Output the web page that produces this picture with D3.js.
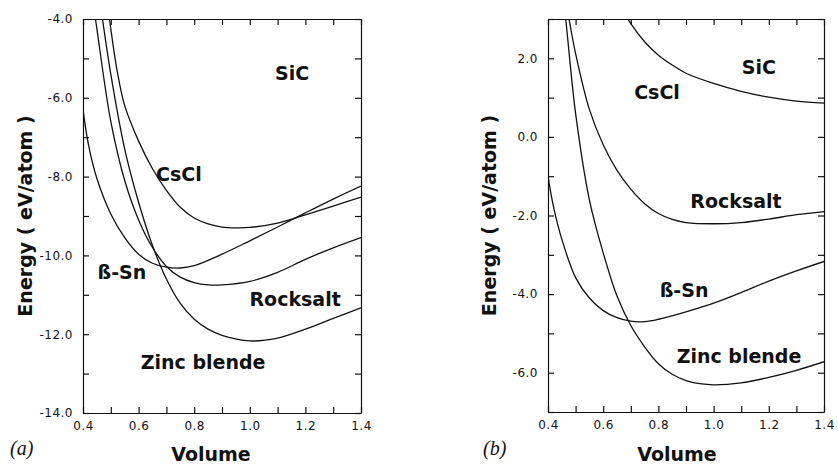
<!DOCTYPE html>
<html>
<head>
<meta charset="utf-8">
<script src="https://cdn.jsdelivr.net/npm/d3@7"></script>
<style>
  body { margin: 0; background: #fff; }
  svg { display: block; }
  .axis path, .axis line { stroke: #111; stroke-width: 1.2; }
  .axis text { font-family: "DejaVu Sans", sans-serif; font-size: 12px; fill: #111; letter-spacing: 0.5px; }
  .curve { fill: none; stroke: #111; stroke-width: 1.3; }
  .label { font-family: "DejaVu Sans", sans-serif; font-weight: bold; font-size: 19px; fill: #111; }
  .title { font-family: "DejaVu Sans", sans-serif; font-weight: bold; font-size: 19px; fill: #111; }
  .tag { font-family: "Liberation Serif", serif; font-style: italic; font-size: 20px; fill: #111; }
</style>
</head>
<body>
<svg id="chart" width="838" height="467"></svg>
<script>
// Volume ticks, shared by both panels
const volumeTicks = [0.4, 0.5, 0.6, 0.7, 0.8, 0.9, 1.0, 1.1, 1.2, 1.3, 1.4];
const volumeLabels = [0.4, 0.6, 0.8, 1.0, 1.2, 1.4];

// Panel (a): energy ticks
const aEnergyTicks = [-4, -5, -6, -7, -8, -9, -10, -11, -12, -13, -14];
const aEnergyLabels = [-4, -6, -8, -10, -12, -14];

// Panel (a): curves (volume, eV/atom)
const aZincV = [0.46, 0.47, 0.50, 0.55, 0.60, 0.65, 0.70, 0.75, 0.80, 0.85, 0.90, 1.00, 1.10, 1.20, 1.30, 1.40];
const aZincE = [-3.5, -4.0, -5.4, -7.3, -8.65, -9.75, -10.6, -11.22, -11.62, -11.87, -12.03, -12.17, -12.10, -11.87, -11.60, -11.33];
const aRockV = [0.435, 0.45, 0.50, 0.55, 0.60, 0.65, 0.70, 0.75, 0.80, 0.85, 0.90, 1.00, 1.10, 1.20, 1.30, 1.40];
const aRockE = [-3.5, -4.25, -6.6, -8.1, -9.1, -9.8, -10.28, -10.55, -10.69, -10.75, -10.75, -10.66, -10.43, -10.10, -9.81, -9.55];
const aCsclV = [0.49, 0.50, 0.52, 0.55, 0.60, 0.65, 0.70, 0.75, 0.80, 0.85, 0.90, 0.95, 1.00, 1.10, 1.20, 1.30, 1.40];
const aCsclE = [-3.75, -4.25, -5.2, -6.2, -7.1, -7.8, -8.35, -8.78, -9.05, -9.2, -9.28, -9.30, -9.29, -9.18, -8.97, -8.75, -8.52];
const aBsnV = [0.40, 0.42, 0.45, 0.50, 0.55, 0.60, 0.65, 0.70, 0.75, 0.80, 0.90, 1.00, 1.10, 1.20, 1.30, 1.40];
const aBsnE = [-6.3, -7.2, -8.05, -8.95, -9.55, -9.97, -10.2, -10.3, -10.32, -10.26, -9.97, -9.63, -9.28, -8.92, -8.57, -8.24];

// Panel (b): energy ticks
const bEnergyTicks = [3, 2, 1, 0, -1, -2, -3, -4, -5, -6, -7];
const bEnergyLabels = [2, 0, -2, -4, -6];

// Panel (b): curves
const bCsclV = [0.68, 0.70, 0.75, 0.80, 0.85, 0.90, 1.00, 1.10, 1.20, 1.30, 1.40];
const bCsclE = [3.12, 2.88, 2.42, 2.08, 1.83, 1.62, 1.36, 1.16, 1.01, 0.91, 0.86];
const bRockV = [0.47, 0.48, 0.50, 0.55, 0.60, 0.65, 0.70, 0.75, 0.80, 0.85, 0.90, 1.00, 1.10, 1.20, 1.30, 1.40];
const bRockE = [3.25, 2.85, 2.12, 0.7, -0.2, -0.85, -1.33, -1.7, -1.95, -2.1, -2.18, -2.21, -2.18, -2.09, -1.98, -1.9];
const bZincV = [0.46, 0.47, 0.50, 0.55, 0.60, 0.65, 0.70, 0.75, 0.80, 0.85, 0.90, 0.95, 1.00, 1.10, 1.20, 1.30, 1.40];
const bZincE = [3.3, 2.6, 0.6, -1.6, -2.95, -4.05, -4.8, -5.34, -5.77, -6.04, -6.2, -6.28, -6.31, -6.26, -6.12, -5.94, -5.72];
const bBsnV = [0.40, 0.42, 0.45, 0.50, 0.55, 0.60, 0.65, 0.70, 0.75, 0.80, 0.90, 1.00, 1.10, 1.20, 1.30, 1.40];
const bBsnE = [-1.0, -1.78, -2.6, -3.58, -4.1, -4.42, -4.6, -4.69, -4.70, -4.64, -4.45, -4.23, -3.96, -3.67, -3.41, -3.17];

// Curve names, placed in data coordinates
const aLabels = [
  { text: 'SiC', v: 1.152, e: -5.37 },
  { text: 'CsCl', v: 0.745, e: -7.93 },
  { text: 'ß-Sn', v: 0.54, e: -10.42 },
  { text: 'Rocksalt', v: 1.163, e: -11.11 },
  { text: 'Zinc blende', v: 0.832, e: -12.71 }
];
const bLabels = [
  { text: 'SiC', v: 1.164, e: 1.78 },
  { text: 'CsCl', v: 0.795, e: 1.14 },
  { text: 'Rocksalt', v: 1.081, e: -1.63 },
  { text: 'ß-Sn', v: 0.893, e: -3.9 },
  { text: 'Zinc blende', v: 1.092, e: -5.58 }
];

const zip = (vs, es) => vs.map((v, i) => ({ v, e: es[i] }));

const panels = [
  {
    id: 'a', left: 83, right: 361, top: 19, bottom: 413,
    domain: [-14, -4], ticks: aEnergyTicks, tickLabels: aEnergyLabels,
    curves: [zip(aZincV, aZincE), zip(aRockV, aRockE), zip(aCsclV, aCsclE), zip(aBsnV, aBsnE)],
    labels: aLabels,
    titleX: 25, volumeX: 211, tagX: 10, tag: '(a)'
  },
  {
    id: 'b', left: 548, right: 824, top: 19, bottom: 412,
    domain: [-7, 3], ticks: bEnergyTicks, tickLabels: bEnergyLabels,
    curves: [zip(bCsclV, bCsclE), zip(bRockV, bRockE), zip(bZincV, bZincE), zip(bBsnV, bBsnE)],
    labels: bLabels,
    titleX: 489, volumeX: 677, tagX: 483, tag: '(b)'
  }
];

const svg = d3.select('#chart');
const has = (list, d) => list.some(t => Math.abs(t - d) < 1e-6);

panels.forEach(p => {
  const x = d3.scaleLinear().domain([0.4, 1.4]).range([p.left, p.right]);
  const y = d3.scaleLinear().domain(p.domain).range([p.bottom, p.top]);
  const g = svg.append('g').attr('class', 'panel panel-' + p.id);

  // Ticks point inwards on all four sides
  g.append('g').attr('class', 'axis').attr('transform', `translate(0,${p.bottom})`)
    .call(d3.axisBottom(x).tickValues(volumeTicks).tickSize(-6).tickSizeOuter(0).tickPadding(8)
      .tickFormat(d => has(volumeLabels, d) ? d.toFixed(1) : ''));
  g.append('g').attr('class', 'axis').attr('transform', `translate(0,${p.top})`)
    .call(d3.axisTop(x).tickValues(volumeTicks).tickSize(-6).tickSizeOuter(0).tickFormat(''));
  g.append('g').attr('class', 'axis').attr('transform', `translate(${p.left},0)`)
    .call(d3.axisLeft(y).tickValues(p.ticks).tickSize(-6).tickSizeOuter(0).tickPadding(10)
      .tickFormat(d => has(p.tickLabels, d) ? d.toFixed(1) : ''));
  g.append('g').attr('class', 'axis').attr('transform', `translate(${p.right},0)`)
    .call(d3.axisRight(y).tickValues(p.ticks).tickSize(-6).tickSizeOuter(0).tickFormat(''));

  // Clip the curves to the frame
  g.append('clipPath').attr('id', 'clip-' + p.id).append('rect')
    .attr('x', p.left).attr('y', p.top)
    .attr('width', p.right - p.left).attr('height', p.bottom - p.top);

  const line = d3.line().x(d => x(d.v)).y(d => y(d.e)).curve(d3.curveCatmullRom.alpha(0.5));
  g.append('g').attr('clip-path', `url(#clip-${p.id})`)
    .selectAll('path').data(p.curves).join('path')
    .attr('class', 'curve').attr('d', line);

  g.selectAll('.label').data(p.labels).join('text')
    .attr('class', 'label')
    .attr('x', d => x(d.v)).attr('y', d => y(d.e))
    .attr('text-anchor', 'middle').attr('dominant-baseline', 'central')
    .text(d => d.text);

  // Axis titles
  g.append('text').attr('class', 'title')
    .attr('transform', `translate(${p.titleX},${(p.top + p.bottom) / 2}) rotate(-90)`)
    .attr('text-anchor', 'middle').attr('dominant-baseline', 'central')
    .text('Energy ( eV/atom )');
  g.append('text').attr('class', 'title')
    .attr('x', p.volumeX).attr('y', 461).attr('text-anchor', 'middle')
    .text('Volume');
  g.append('text').attr('class', 'tag')
    .attr('x', p.tagX).attr('y', 455).text(p.tag);
});
</script>
</body>
</html>
